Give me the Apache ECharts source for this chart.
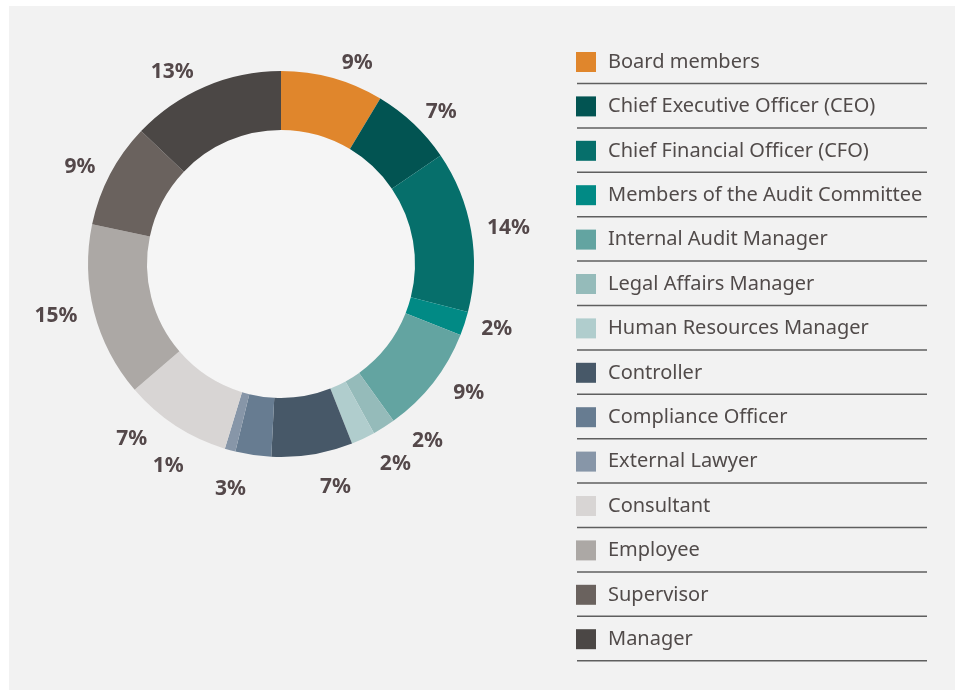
<!DOCTYPE html>
<html>
<head>
<meta charset="utf-8">
<script src="https://cdn.jsdelivr.net/npm/echarts@6/dist/echarts.min.js"></script>
<style>
  html, body { margin: 0; padding: 0; background: #ffffff; }
  #chartmain { position: absolute; left: 9px; top: 6px; width: 946px; height: 684px; background: #f2f2f2; }
</style>
</head>
<body>
<div id="chartmain"></div>
<script>
// roles, in drawing order (clockwise from 12 o'clock)
var roles = ['Board members', 'Chief Executive Officer (CEO)', 'Chief Financial Officer (CFO)',
    'Members of the Audit Committee', 'Internal Audit Manager', 'Legal Affairs Manager',
    'Human Resources Manager', 'Controller', 'Compliance Officer', 'External Lawyer',
    'Consultant', 'Employee', 'Supervisor', 'Manager'];
// slice sizes as measured from the ring
var shares = [8.6, 6.9, 13.5, 2.0, 9.1, 1.9, 2.0, 6.8, 3.0, 0.9, 9.0, 14.6, 8.8, 12.9];
// printed percentages
var printed = ['9%', '7%', '14%', '2%', '9%', '2%', '2%', '7%', '3%', '1%', '7%', '15%', '9%', '13%'];
var colors = ['#e0862c', '#025452', '#066f6b', '#018a85', '#63a4a1', '#95bbba', '#b0cdcd',
    '#475868', '#677c91', '#8796a8', '#d8d5d4', '#aca8a5', '#6a625e', '#4b4745'];

var pieData = [];
for (var i = 0; i < roles.length; i++) {
    pieData.push({ name: roles[i], value: shares[i] });
}

// legend separators
var legTop = 41, rowH = 44.4;
var lines = [];
for (var j = 0; j < roles.length; j++) {
    lines.push({
        type: 'line',
        silent: true,
        shape: { x1: 568, y1: legTop + 36.5 + j * rowH, x2: 918, y2: legTop + 36.5 + j * rowH },
        style: { stroke: '#5f5f5f', lineWidth: 1.5 }
    });
}

var option = {
    animation: false,
    color: colors,
    legend: {
        orient: 'vertical',
        left: 562,
        top: legTop,
        icon: 'rect',
        itemWidth: 20,
        itemHeight: 20,
        itemGap: rowH - 20,
        selectedMode: false,
        data: roles,
        textStyle: {
            color: '#514b4a',
            fontSize: 20,
            lineHeight: 20,
            fontFamily: 'Noto Sans',
            padding: [0, 0, 0, 7]
        }
    },
    graphic: lines,
    series: [
        {
            // lighter fill of the hole
            type: 'pie',
            silent: true,
            radius: [0, 134],
            center: [272, 258],
            label: { show: false },
            labelLine: { show: false },
            itemStyle: { color: '#f5f5f5' },
            data: [{ value: 1, name: 'hole' }]
        },
        {
            type: 'pie',
            radius: [134, 193],
            center: [272, 258],
            startAngle: 90,
            clockwise: true,
            avoidLabelOverlap: true,
            data: pieData,
            label: {
                show: true,
                position: 'outside',
                formatter: function (p) { return printed[p.dataIndex]; },
                color: '#54484a',
                fontSize: 21,
                fontWeight: 'bold',
                fontFamily: 'Noto Sans'
            },
            labelLine: { show: false, length: 16, length2: 0 }
        }
    ]
};

var myChart = echarts.init(document.getElementById('chartmain'));
myChart.setOption(option);
</script>
</body>
</html>
